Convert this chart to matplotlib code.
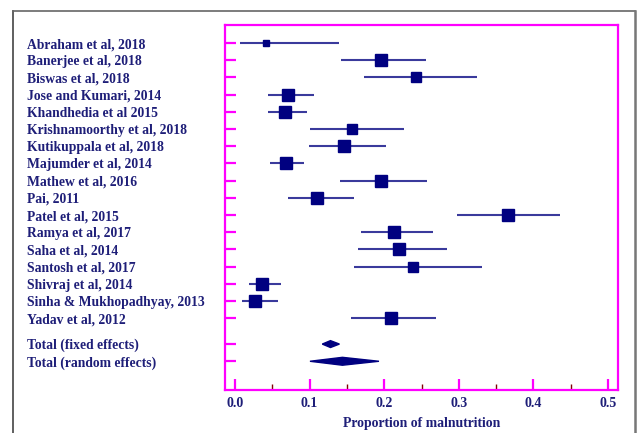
import numpy as np
import matplotlib.pyplot as plt
from matplotlib.lines import Line2D
from matplotlib.patches import Polygon

# studies (top to bottom)
studies = ["Abraham et al, 2018", "Banerjee et al, 2018", "Biswas et al, 2018",
           "Jose and Kumari, 2014", "Khandhedia et al 2015", "Krishnamoorthy et al, 2018",
           "Kutikuppala et al, 2018", "Majumder et al, 2014", "Mathew et al, 2016",
           "Pai, 2011", "Patel et al, 2015", "Ramya et al, 2017", "Saha et al, 2014",
           "Santosh et al, 2017", "Shivraj et al, 2014", "Sinha & Mukhopadhyay, 2013",
           "Yadav et al, 2012"]
est = [0.041, 0.196, 0.243, 0.0715, 0.0675, 0.157, 0.146, 0.069, 0.196,
       0.110, 0.3655, 0.2135, 0.220, 0.239, 0.0357, 0.027, 0.2095]
lo = [0.007, 0.1425, 0.173, 0.0447, 0.0447, 0.1005, 0.099, 0.047, 0.141,
      0.0715, 0.298, 0.169, 0.1645, 0.160, 0.0188, 0.0098, 0.156]
hi = [0.139, 0.256, 0.325, 0.106, 0.096, 0.227, 0.202, 0.093, 0.258,
      0.160, 0.436, 0.265, 0.284, 0.331, 0.061, 0.057, 0.270]
# marker side (points), roughly the study weight
msize = [5, 8, 6.5, 8, 8, 6.5, 8, 8, 8, 8, 8, 8, 8, 6.5, 8, 8, 8]

totals = ["Total (fixed effects)", "Total (random effects)"]
tot_est = [0.128, 0.144]
tot_lo = [0.117, 0.1005]
tot_hi = [0.140, 0.193]

navy = '#000080'
line_c = '#3a3a9c'
txt_c = '#1e1e78'
pink = '#ff00ff'

plt.rcParams['font.family'] = ['Liberation Serif', 'DejaVu Serif']

fig = plt.figure(figsize=(6.37, 4.33), dpi=100)
ax = fig.add_axes([225/637, 43/433, 393/637, 365/433])

ypos = np.arange(len(studies))
ytot = np.array([17.5, 18.5])

ax.hlines(ypos, lo, hi, color=line_c, lw=1.5, zorder=2)
for y, e, s in zip(ypos, est, msize):
    ax.plot(e, y, marker='s', ms=s, color=navy, mec=navy, zorder=3)

heights = [0.2, 0.23]
for y, e, l, h, hh in zip(ytot, tot_est, tot_lo, tot_hi, heights):
    ax.add_patch(Polygon([(l, y), (e, y - hh), (h, y), (e, y + hh)],
                         closed=True, color=navy, zorder=3))

ax.set_xlim(-0.0134, 0.5134)
ax.set_ylim(20.17, -1.05)

ax.set_xticks(np.arange(0, 0.51, 0.1))
ax.set_xticklabels(['0.0', '0.1', '0.2', '0.3', '0.4', '0.5'])
ax.set_xticks(np.arange(0.05, 0.5, 0.1), minor=True)
ax.set_yticks(np.concatenate([ypos, ytot]))
ax.set_yticklabels(studies + totals)

for sp in ax.spines.values():
    sp.set_color(pink)
    sp.set_linewidth(1.6)

ax.tick_params(axis='x', which='major', direction='in', length=8, width=1.6,
               color=pink, labelcolor=txt_c, labelsize=10, pad=5)
ax.tick_params(axis='x', which='minor', direction='in', length=4, width=1,
               color='#800000')
ax.tick_params(axis='y', direction='in', length=8, width=1.6, color=pink,
               labelcolor=txt_c, labelsize=9.8, pad=142.5)
for lab in ax.get_yticklabels():
    lab.set_horizontalalignment('left')
for lab in ax.get_xticklabels() + ax.get_yticklabels():
    lab.set_fontweight('bold')

ax.set_xlabel('Proportion of malnutrition', color=txt_c, fontsize=9.9,
              fontweight='bold', labelpad=5)

# outer frame of the original window
fig.add_artist(Line2D([13/637, 13/637], [0, 1 - 11/433], color='#444444', lw=1.2))
fig.add_artist(Line2D([13/637, 635/637], [1 - 11/433, 1 - 11/433], color='#666666', lw=1.2))
fig.add_artist(Line2D([635/637, 635/637], [0, 1 - 11/433], color='#777777', lw=1.8))

fig.savefig('out.png', dpi=100)
